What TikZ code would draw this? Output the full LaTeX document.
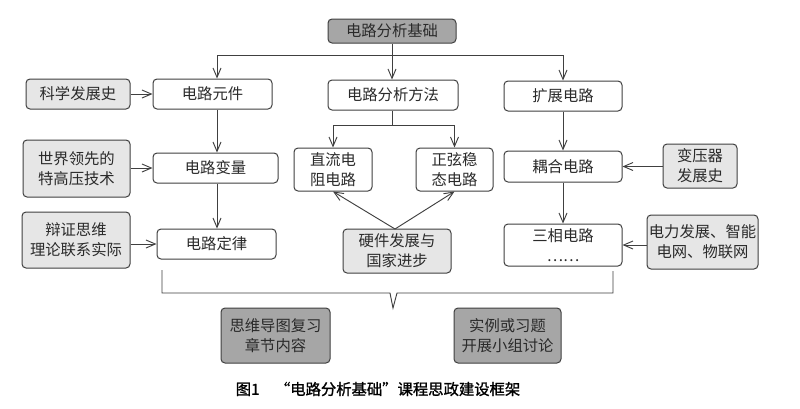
\documentclass[tikz,border=0pt]{standalone}
\usepackage{fontspec}
\setmainfont{Noto Sans CJK SC}
\newfontfamily\capfont[FakeBold=1.2]{Noto Sans CJK SC}
\usetikzlibrary{arrows.meta}
\definecolor{lc}{HTML}{404040}
\definecolor{tc}{HTML}{2A2A2A}
\definecolor{lg}{HTML}{E6E6E6}
\definecolor{dg}{HTML}{A6A6A6}
\tikzset{
  box/.style={draw=lc, rounded corners=3pt, line width=0.75pt, fill=white, inner sep=0pt,
    align=center, text=tc, font={\fontsize{11.5}{15}\selectfont}},
  lbox/.style={box, fill=lg},
  dbox/.style={box, fill=dg},
  sz/.style 2 args={minimum width=#1*0.75pt, minimum height=#2*0.75pt},
  arr/.style={draw=lc, line width=0.7pt, -{Straight Barb[length=7pt,width=6pt]}},
  ln/.style={draw=lc, line width=0.7pt},
}
\begin{document}
\begin{tikzpicture}[x=0.75pt,y=-0.75pt]
\useasboundingbox[fill=white] (0,0) rectangle (800,408);
% nodes
\node[dbox, sz={128}{24}] (top) at (392,31) {电路分析基础};
\node[box, sz={119}{30}] (yj) at (212.5,94) {电路元件};
\node[lbox, sz={104}{30}] (kx) at (78,94) {科学发展史};
\node[box, sz={130}{30}] (ff) at (393,95) {电路分析方法};
\node[box, sz={118}{30}] (kz) at (563,96) {扩展电路};
\node[box, sz={125}{30}] (bl) at (215.5,168) {电路变量};
\node[lbox, sz={107}{57}] (sj) at (76.5,168.5) {世界领先的\\特高压技术};
\node[box, sz={78}{43}] (zl) at (333,169.5) {直流电\\阻电路};
\node[box, sz={77}{43}] (zx) at (454.5,169.5) {正弦稳\\态电路};
\node[box, sz={118}{31}] (oh) at (563,166.5) {耦合电路};
\node[lbox, sz={74}{44}] (byq) at (700,166) {变压器\\发展史};
\node[box, sz={119}{30}] (dl) at (216.5,244) {电路定律};
\node[lbox, sz={108}{56}] (bz) at (76,240) {辩证思维\\理论联系实际};
\node[lbox, sz={108}{44}] (yj2) at (397,251) {硬件发展与\\国家进步};
\node[box, sz={118}{42}] (sx) at (563,245) {三相电路\\……};
\node[lbox, sz={111}{54}] (dlfz) at (702.5,242) {电力发展、智能\\电网、物联网};
\node[dbox, sz={109}{55}] (swdt) at (275.5,335.5) {思维导图复习\\章节内容};
\node[dbox, sz={107}{55}] (sl) at (507.5,335.5) {实例或习题\\开展小组讨论};
\node[text=black, font={\capfont\fontsize{11.5}{13}\selectfont}] (cap) at (378,389) {图1\quad“电路分析基础”课程思政建设框架};
% top distribution
\coordinate (h1) at (217,55);
\coordinate (h2) at (563,55);
\draw[ln] (top.south) -- (top.south |- h1);
\draw[ln] (h1) -- (h2);
\draw[arr] (h1) -- (h1 |- yj.north);
\draw[arr] (top.south |- h1) -- (top.south |- ff.north);
\draw[arr] (h2) -- (h2 |- kz.north);
% left column
\draw[arr] (kx) -- (yj);
\draw[arr] (sj.east |- bl) -- (bl.west);
\draw[arr] (bz.east |- dl) -- (dl.west);
\coordinate (v1) at (217,0);
\draw[arr] (v1 |- yj.south) -- (v1 |- bl.north);
\draw[arr] (v1 |- bl.south) -- (v1 |- dl.north);
% middle
\coordinate (m1) at (392,125);
\draw[ln] (ff.south -| m1) -- (m1);
\draw[ln] (zl.north |- m1) -- (zx.north |- m1);
\draw[arr] (zl.north |- m1) -- (zl.north);
\draw[arr] (zx.north |- m1) -- (zx.north);
\coordinate (hw) at (395,229);
\draw[arr] (hw) -- (zl.south);
\draw[arr] (hw) -- (zx.south);
% right column
\draw[arr] (kz) -- (oh);
\draw[arr] (oh) -- (sx);
\draw[arr] (byq.west |- oh) -- (oh.east);
\draw[arr] (dlfz.west |- sx) -- (sx.east);
% brace
\coordinate (b1) at (162,270);
\coordinate (b2) at (613,271);
\coordinate (bm) at (393,308);
\draw[ln] (b1) -- (162,293) -- (390,293) -- (bm) -- (397,293) -- (613,293) -- (b2);
\end{tikzpicture}
\end{document}
